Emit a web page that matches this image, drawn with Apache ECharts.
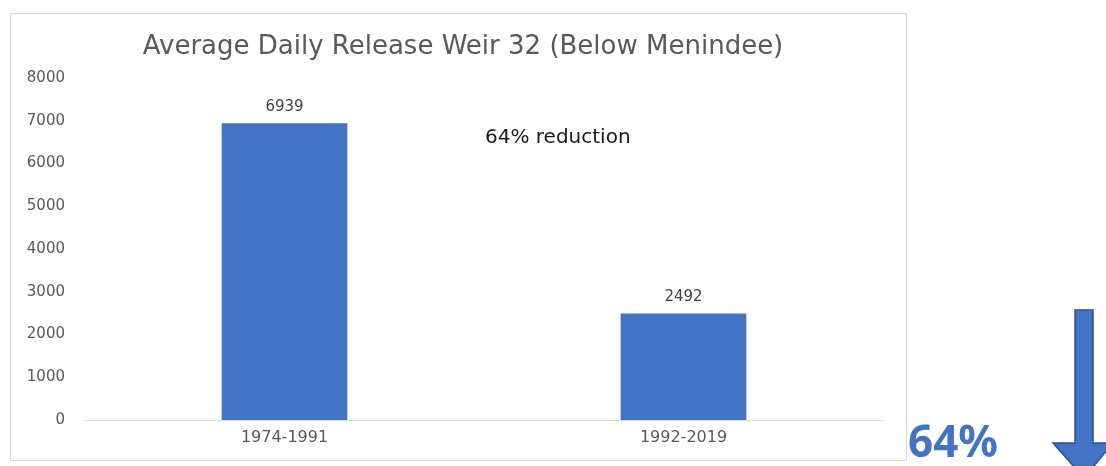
<!DOCTYPE html>
<html><head><meta charset="utf-8">
<script src="https://cdn.jsdelivr.net/npm/echarts@6/dist/echarts.min.js"></script>
<style>html,body{margin:0;padding:0;background:#fff}#c{width:1106px;height:466px}</style>
</head><body><div id="c"></div>
<script>
const categories = ['1974-1991', '1992-2019'];
const values = [6939, 2492];
const yTicks = { min: 0, max: 8000, interval: 1000 };
const titleText = 'Average Daily Release Weir 32 (Below Menindee)';
const noteText = '64% reduction';
const bigText = '64%';

const chart = echarts.init(document.getElementById('c'));
const font = '"DejaVu Sans", sans-serif';
chart.setOption({
  animation: false,
  title: { text: titleText, left: 458, top: 29, textAlign: 'center',
    textStyle: { fontFamily: font, fontSize: 26, fontWeight: 'normal', color: '#595959' } },
  grid: { left: 85, right: 223, top: 78, bottom: 46 },
  xAxis: { type: 'category', data: categories,
    axisLine: { lineStyle: { color: '#d9d9d9', width: 1 } }, axisTick: { show: false },
    axisLabel: { fontFamily: font, fontSize: 16, color: '#595959', margin: 10 } },
  yAxis: { type: 'value', min: yTicks.min, max: yTicks.max, interval: yTicks.interval,
    splitLine: { show: false }, axisLine: { show: false }, axisTick: { show: false },
    axisLabel: { fontFamily: font, fontSize: 15, color: '#595959', margin: 20, formatter: v => String(v) } },
  series: [{ type: 'bar', data: values, barWidth: '31.5%',
    itemStyle: { color: '#4472C4' },
    label: { show: true, position: 'top', distance: 9, fontFamily: font, fontSize: 15, color: '#404040' } }],
  graphic: [
    { type: 'rect', shape: { x: 10.5, y: 13.5, width: 896, height: 447 }, silent: true, z: -1,
      style: { fill: 'none', stroke: '#d9d9d9', lineWidth: 1 } },
    { type: 'text', left: 485, top: 128, style: { text: noteText, font: '20px ' + font, fill: '#1a1a1a' } },
    { type: 'text', left: 908, top: 422, style: { text: bigText, font: 'bold 44px "Noto Sans", sans-serif', fill: '#4472C4' } },
    { type: 'polygon', shape: { points: [[1075,310],[1093,310],[1093,443],[1113,443],[1084,478],[1053,443],[1075,443]] },
      style: { fill: '#4472C4', stroke: '#2F528F', lineWidth: 1.5 } }
  ]
});
</script></body></html>
